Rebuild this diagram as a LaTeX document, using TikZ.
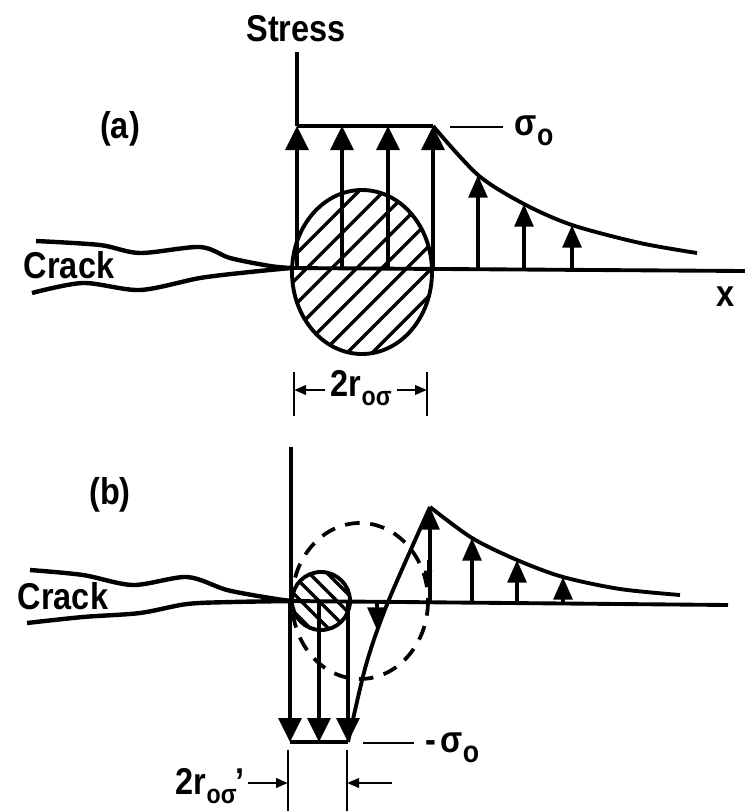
\documentclass[tikz,border=0pt]{standalone}
\usepackage{fontspec}
\newfontfamily\lab[FakeStretch=0.87]{Liberation Sans}
\usetikzlibrary{arrows.meta}
\newcommand\mysubA[1]{\raisebox{-8pt}{\fontsize{23}{25}\selectfont #1}}
\newcommand\mysubB[1]{\raisebox{-7pt}{\fontsize{20}{22}\selectfont #1}}
\begin{document}
\begin{tikzpicture}[x=0.75pt,y=-0.75pt,line width=2.9pt,
  lbl/.style={font=\lab\bfseries\fontsize{28}{31}\selectfont,inner sep=0pt},
  sarr/.style={-{Triangle[width=17pt,length=18pt]}},
  marr/.style={-{Triangle[width=14pt,length=17pt]}},
  tarr/.style={-{Triangle[width=6pt,length=13pt]},line width=1.6pt},
  darr/.style={-{Triangle[width=7pt,length=9pt]},line width=2pt},
  crk/.style={line width=3.3pt},
  tick/.style={line width=2pt},
  hatch/.style={line width=2.5pt},
  dashc/.style={line width=2.8pt,dash pattern=on 11pt off 8pt}]
\useasboundingbox (0,0) rectangle (745,811);

% ---------------- (a) ----------------
\node[lbl] (stress) at (296,29) {Stress};
\node[lbl] (la) at (120,129) {(a)};
\node[lbl] (cracka) at (69,265) {Crack};
\node[lbl] (xlab) at (726,297) {x};
\node[lbl,anchor=base west] (sa) at (513,135) {σ\mysubA{o}};
\node[lbl,anchor=base west] (ra) at (329,396) {2r\mysubB{oσ}};

\coordinate (a0) at (297,52);
\coordinate (atip) at (291,268);
\coordinate (aend) at (745,271);
\coordinate (t1) at (297,126);
\coordinate (t4) at (433,126);

% hatched ellipse
\begin{scope}
  \clip (362,272) ellipse [x radius=70, y radius=82];
  \foreach \c in {500,525,...,775} {\draw[hatch] (\c-180,180) -- (\c-370,370);}
\end{scope}
\draw (362,272) ellipse [x radius=70, y radius=82];

% crack (a)
\draw[crk] plot[smooth] coordinates {(36,241) (100,245) (140,253) (200,247) (230,258) (270,266) (atip)};
\draw[crk] plot[smooth] coordinates {(32,293) (83,283) (140,290) (200,278) (250,272) (atip)};

% axes
\draw (a0) -- (t1);
\draw (atip) -- (aend);
\draw (t1) -- (t4);

% uniform stress arrows
\foreach \x in {297,342,388,433} {\draw[sarr] (\x,268) -- (\x,126);}

% decaying stress
\draw plot[smooth] coordinates {(t4) (478,175) (524,204) (572,225) (640,243) (697,253)};
\draw[marr] (478,269) -- (478,175);
\draw[marr] (524,270) -- (524,204);
\draw[marr] (572,270) -- (572,225);

% sigma_o leader
\draw[line width=2pt] (450,127) -- (503,127);

% dimension 2r (a)
\draw[tick] (294,372) -- (294,416);
\draw[tick] (427,372) -- (427,416);
\draw[darr] (ra.west |- 0,390) ++(-4,0) -- (294,390);
\draw[darr] (ra.east |- 0,390) ++(3,0) -- (427,390);

% ---------------- (b) ----------------
\node[lbl] (lb) at (110,495) {(b)};
\node[lbl] (crackb) at (63,596) {Crack};
\node[lbl,anchor=base west] (sb) at (424,752) {-\kern3pt σ\mysubA{o}};
\node[lbl,anchor=base west] (rb) at (174,794) {2r\mysubB{oσ}\kern-1pt’};

\coordinate (b0) at (291,447);
\coordinate (btip) at (291,601);
\coordinate (bend) at (728,605);

% small hatched circle
\begin{scope}
  \clip (321,601) circle [radius=29];
  \foreach \c in {-318,-300,...,-230} {\draw[hatch] (560+\c,560) -- (650+\c,650);}
\end{scope}
\draw (321,601) circle [radius=29];

% dashed plastic zone
\draw[dashc] (360,601) ellipse [x radius=68, y radius=78];

% crack (b)
\draw[crk] plot[smooth] coordinates {(30,570) (83,575) (133,585) (187,577) (227,590) (270,598) (btip)};
\draw[crk] plot[smooth] coordinates {(27,623) (83,617) (140,613) (187,604) (233,602) (btip)};

% axes
\draw (b0) -- (btip);
\draw (btip) -- (bend);

% compressive arrows
\foreach \x in {290,319,348} {\draw[sarr] (\x,602) -- (\x,742);}
\draw (290,742) -- (348,742);

% rising line
\draw plot[smooth] coordinates {(348,742) (366,665) (388,602) (430,507)};
\draw[marr] (377,602) -- (377,630);

% peak and decay
\draw[marr] (430,604) -- (430,507);
\draw[tarr] (428,560) -- (428,588);
\draw plot[smooth] coordinates {(430,507) (472,538) (517,560) (563,577) (620,589) (680,595)};
\draw[marr] (472,604) -- (472,538);
\draw[marr] (517,604) -- (517,560);
\draw[marr] (563,604) -- (563,577);

% -sigma_o leader
\draw[line width=2pt] (363,743) -- (414,743);

% dimension 2r' (b)
\draw[tick] (288,750) -- (288,811);
\draw[tick] (347,750) -- (347,811);
\draw[darr] (rb.east |- 0,783) ++(2,0) -- (288,783);
\draw[darr] (392,783) -- (347,783);
\end{tikzpicture}
\end{document}
